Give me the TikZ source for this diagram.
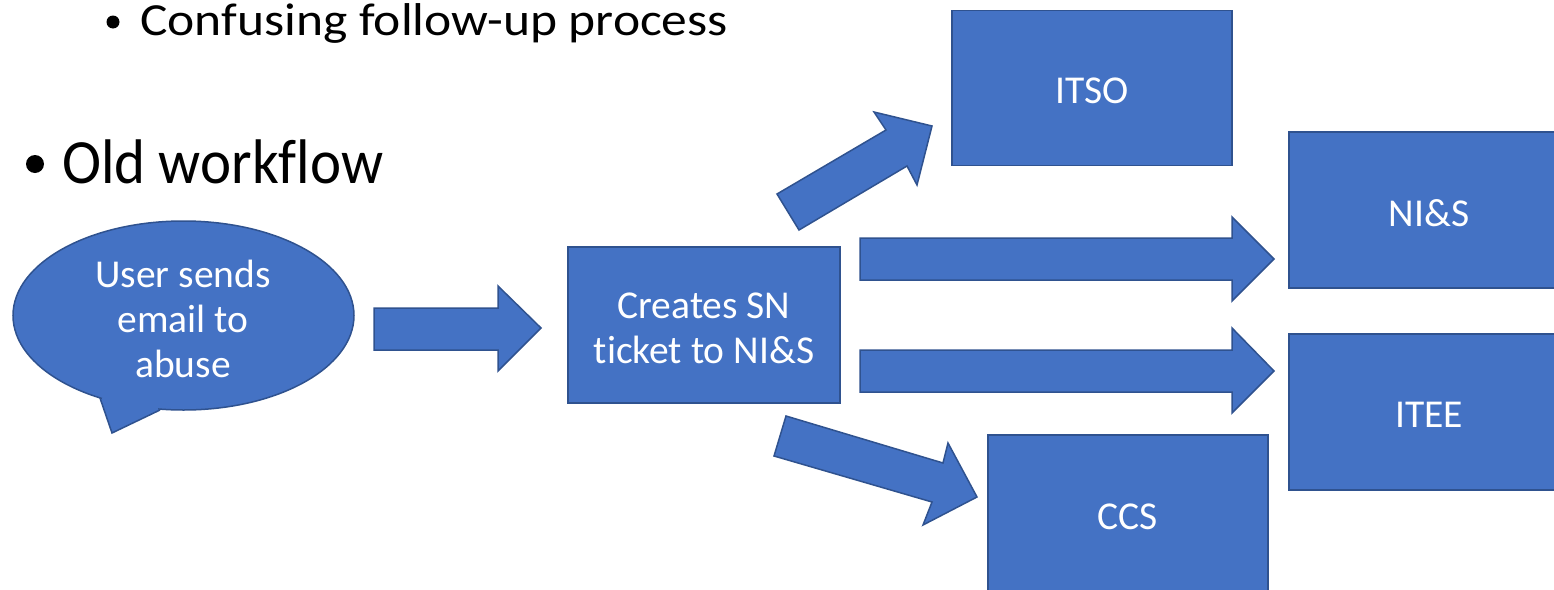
\documentclass[tikz,border=0pt]{standalone}
\usepackage{fontspec}
\setmainfont{Carlito}[Ligatures=NoCommon]
\definecolor{fillblue}{HTML}{4472C4}
\definecolor{edgeblue}{HTML}{2F528F}
\tikzset{
  shp/.style={fill=fillblue, draw=edgeblue, line width=1.5pt, line join=miter},
  boxtext/.style={text=white, font=\fontsize{39.5}{45}\selectfont, align=center},
}
\begin{document}
\begin{tikzpicture}[x=1pt,y=-1pt]
\useasboundingbox (0,0) rectangle (1554,589);
\clip (0,0) rectangle (1554,589);
% bullet texts
\fill (113,22) circle[radius=6.5];
\node[anchor=base west, inner sep=0, font=\fontsize{46}{50}\selectfont] (t1) at (140,35) {\scalebox{1.12}[1]{Confusing follow-up process}};
\fill (35,164) circle[radius=9];
\node[anchor=base west, inner sep=0, font=\fontsize{63}{70}\selectfont] (t2) at (62,183) {\scalebox{0.935}[1]{Old workflow}};
% callout
\fill[fillblue] (100,398) -- (112,433) -- (160,410) -- (150,380) -- (110,380) -- cycle;
\path[shp] (183.5,315.5) ellipse[x radius=170.5, y radius=94.5];
\fill[fillblue] (103,395) -- (157,405) -- (158.5,410.5) -- (113,431) -- (102,399) -- cycle;
\draw[edgeblue, line width=1.5pt, line join=miter] (100,398) -- (112,433) -- (160,410);
\node[boxtext] (user) at (183,319) {User sends\\email to\\abuse};
% boxes
\node[shp, minimum width=272pt, minimum height=156pt] (sn) at (704,325) {};
\node[boxtext] (snlbl) at (704,328) {Creates SN\\ticket to NI\&S};
\node[shp, minimum width=280pt, minimum height=155pt] (itso) at (1092,88) {};
\node[boxtext] (itsolbl) at (1092,91) {ITSO};
\node[shp, minimum width=280pt, minimum height=156pt] (nis) at (1429,210) {};
\node[boxtext] (nislbl) at (1429,213) {NI\&S};
\node[shp, minimum width=280pt, minimum height=156pt] (itee) at (1429,412) {};
\node[boxtext] (iteelbl) at (1429,415) {ITEE};
\node[shp, minimum width=280pt, minimum height=160pt, anchor=north] (ccs) at (1128,434) {};
\node[boxtext] (ccslbl) at (1128,517) {CCS};
% block arrows
\draw[shp] (374,308) -- (498,308) -- (498,286) -- (541,328) -- (498,371) -- (498,350) -- (374,350) -- cycle;
\draw[shp] (860,238) -- (1232,238) -- (1232,217) -- (1274,259) -- (1232,301) -- (1232,280) -- (860,280) -- cycle;
\draw[shp] (860,350) -- (1232,350) -- (1232,328) -- (1274,371) -- (1232,413) -- (1232,392) -- (860,392) -- cycle;
\draw[shp] (777,194) -- (886,130) -- (874,112) -- (932,126) -- (917,185) -- (907,166) -- (799,230) -- cycle;
\draw[shp] (786,416) -- (943,463) -- (948,443) -- (977,497) -- (923,525) -- (932,502) -- (774,456) -- cycle;
\end{tikzpicture}
\end{document}
